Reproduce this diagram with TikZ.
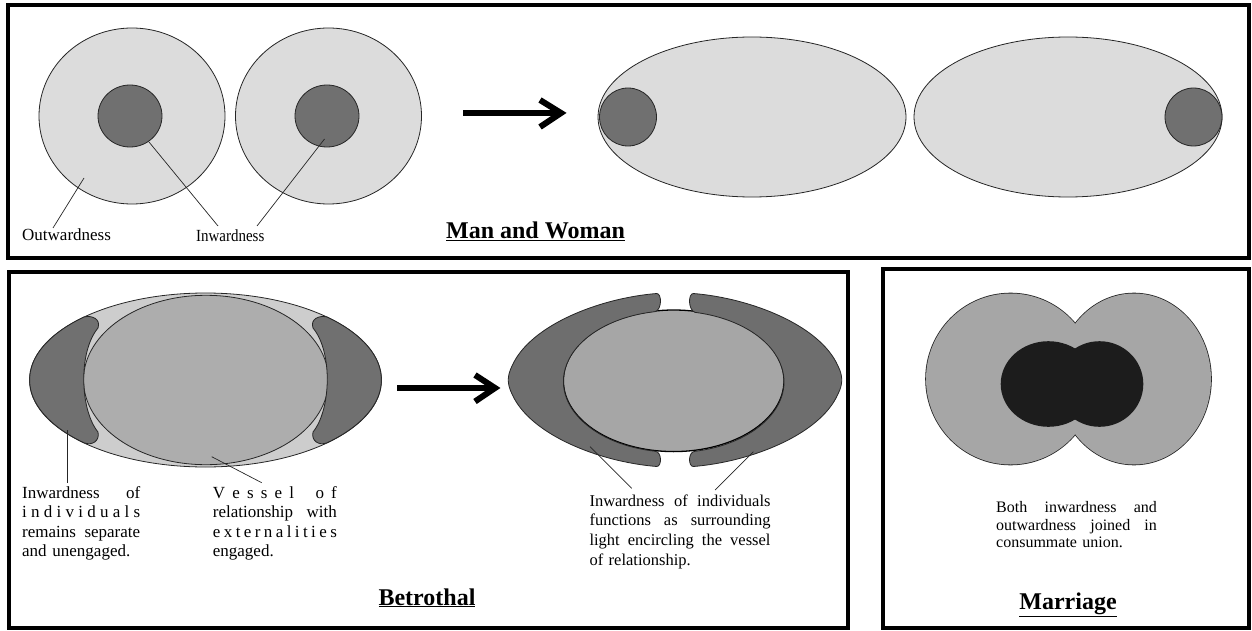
\documentclass[tikz,border=0pt]{standalone}
\usepackage{fontspec}
\setmainfont{Liberation Serif}
\usepackage{graphicx}
\definecolor{lightA}{HTML}{DCDCDC}
\definecolor{darkA}{HTML}{707070}
\definecolor{ringB}{HTML}{CDCDCD}
\definecolor{vesselB}{HTML}{ADADAD}
\definecolor{vesselC}{HTML}{A6A6A6}
\definecolor{darkC}{HTML}{6E6E6E}
\definecolor{grayM}{HTML}{A6A6A6}
\definecolor{blackM}{HTML}{1C1C1C}
\tikzset{
  panel/.style={draw=black, line width=4pt},
  outline/.style={draw=black!85, line width=0.8pt},
  lead/.style={draw=black!85, line width=0.7pt},
  shaft/.style={draw=black, line width=6pt},
  chevron/.style={draw=black, line width=6pt, line join=miter},
  smalllabel/.style={inner sep=0pt, anchor=base west, font=\fontsize{17}{19.5}\selectfont},
  titletext/.style={inner sep=0pt, anchor=base, font=\bfseries\fontsize{24}{28}\selectfont},
  textblock/.style={inner sep=0pt, anchor=north west, align=left},
}
\begin{document}
\begin{tikzpicture}[x=1pt,y=-1pt]
\useasboundingbox (0,0) rectangle (1252,631);

% ---------------- panels
\draw[panel] (8,5) rectangle (1249,258);
\draw[panel] (9,272) rectangle (848,628);
\draw[panel] (883,269) rectangle (1249,628);

% ---------------- top panel: two persons
\draw[outline, fill=lightA] (132,116) ellipse [x radius=93, y radius=88];
\draw[outline, fill=darkA] (130,116) ellipse [x radius=32, y radius=31];
\draw[outline, fill=lightA] (328.5,116) ellipse [x radius=93, y radius=88];
\draw[outline, fill=darkA] (327,116) ellipse [x radius=32, y radius=31];

\node[smalllabel] (outw) at (22,240) {Outwardness};
\node[smalllabel] (inw) at (196,241) {\scalebox{0.88}[1]{Inwardness}};
\coordinate (outwS) at (53,228);
\coordinate (outwE) at (84,178);
\coordinate (inwS1) at (218,226);
\coordinate (inwE1) at (149,142);
\coordinate (inwS2) at (257,226);
\coordinate (inwE2) at (324.5,139);
\draw[lead] (outwS) -- (outwE);
\draw[lead] (inwS1) -- (inwE1);
\draw[lead] (inwS2) -- (inwE2);

% arrow top
\coordinate (arA1) at (463,113);
\coordinate (arA2) at (556,113);
\coordinate (arAtip) at (561,113);
\draw[shaft] (arA1) -- (arA2);
\draw[chevron] (540,100) -- (arAtip) -- (540,127);

% two ellipses
\draw[outline, fill=lightA] (752,117) ellipse [x radius=154, y radius=80];
\draw[outline, fill=darkA] (628,117) ellipse [x radius=28.5, y radius=29];
\draw[outline, fill=lightA] (1068,117) ellipse [x radius=154, y radius=80];
\draw[outline, fill=darkA] (1193.5,117) ellipse [x radius=28.5, y radius=29];

\node[titletext] (manwoman) at (535.5,238) {\underline{Man and Woman}};

% ---------------- betrothal, first figure
\draw[outline, fill=ringB] (205.5,380) ellipse [x radius=176, y radius=87];
\draw[outline, fill=vesselB] (206,380) ellipse [x radius=122.5, y radius=84.7];
\draw[outline, fill=darkA]
  (84,317) arc [start angle=226.3, end angle=133.7, x radius=176, y radius=87]
  .. controls (92,446) and (100,441) .. (98,432)
  .. controls (80,410) and (78,352) .. (98,328)
  .. controls (101,319) and (92,315) .. (84,317) -- cycle;
\draw[outline, fill=darkA]
  (327,317) arc [start angle=-46.3, end angle=46.3, x radius=176, y radius=87]
  .. controls (319,446) and (311,441) .. (313,432)
  .. controls (331,410) and (333,352) .. (313,328)
  .. controls (310,319) and (319,315) .. (327,317) -- cycle;

\coordinate (ldA) at (67,430);
\coordinate (ldB) at (67,483);
\coordinate (ldC) at (211.7,456.7);
\coordinate (ldD) at (261.7,482.7);
\draw[lead] (ldA) -- (ldB);
\draw[lead] (ldC) -- (ldD);

\node[textblock, text width=118pt, font=\fontsize{17}{19.5}\selectfont] (txtA) at (22,484.35) {%
\makebox[\linewidth][s]{\strut Inwardness \hfill of}\\
\makebox[\linewidth][s]{\strut i\hfill n\hfill d\hfill i\hfill v\hfill i\hfill d\hfill u\hfill a\hfill l\hfill s}\\
\makebox[\linewidth][s]{\strut remains \hfill separate}\\
\strut and unengaged.};

\node[textblock, text width=124pt, font=\fontsize{17}{19.5}\selectfont] (txtB) at (212.7,484.35) {%
\makebox[\linewidth][s]{\strut V\hfill e\hfill s\hfill s\hfill e\hfill l\hfill\hfill\hfill o\hfill f}\\
\makebox[\linewidth][s]{\strut relationship \hfill with}\\
\makebox[\linewidth][s]{\strut e\hfill x\hfill t\hfill e\hfill r\hfill n\hfill a\hfill l\hfill i\hfill t\hfill i\hfill e\hfill s}\\
\strut engaged.};

% arrow bottom
\coordinate (arB1) at (397,388);
\coordinate (arB2) at (490,388);
\coordinate (arBtip) at (495,388);
\draw[shaft] (arB1) -- (arB2);
\draw[chevron] (475,375) -- (arBtip) -- (475,401.5);

% ---------------- betrothal, second figure
\draw[draw=black, line width=1.3pt, fill=vesselC] (673.7,380.8) ellipse [x radius=110.3, y radius=70.8];
\draw[outline, fill=darkC]
  (656.7,293.5) .. controls (600,298) and (530,325) .. (512,366)
  .. controls (507,376) and (507,384) .. (512,394)
  .. controls (530,435) and (600,462) .. (656.7,466.5)
  .. controls (662,466.5) and (662,451.5) .. (655,451.2)
  arc [start angle=99.76, end angle=260.24, x radius=110.3, y radius=70.8]
  .. controls (662,310) and (662,293.5) .. (656.7,293.5) -- cycle;
\draw[outline, fill=darkC]
  (693.3,293.5) .. controls (750,298) and (820,325) .. (838,366)
  .. controls (843,376) and (843,384) .. (838,394)
  .. controls (820,435) and (750,462) .. (693.3,466.5)
  .. controls (688,466.5) and (688,451.5) .. (695,451.3)
  arc [start angle=78.87, end angle=-78.87, x radius=110.3, y radius=70.8]
  .. controls (688,310) and (688,293.5) .. (693.3,293.5) -- cycle;

\coordinate (ldE) at (590,446.7);
\coordinate (ldF) at (631.7,488.3);
\coordinate (ldG) at (753.3,451.7);
\coordinate (ldH) at (715,490);
\draw[lead] (ldE) -- (ldF);
\draw[lead] (ldG) -- (ldH);

\node[textblock, text width=181pt, font=\fontsize{16.5}{19.7}\selectfont] (txtC) at (589.3,492.2) {%
\makebox[\linewidth][s]{\strut Inwardness \hfill of \hfill individuals}\\
\makebox[\linewidth][s]{\strut functions \hfill as \hfill surrounding}\\
\makebox[\linewidth][s]{\strut light \hfill encircling \hfill the \hfill vessel}\\
\strut of relationship.};

\node[titletext] (betro) at (427,605) {\underline{Betrothal}};

% ---------------- marriage
\fill[grayM] (1010.6,379) ellipse [x radius=84.6, y radius=85.5];
\fill[grayM] (1134,379) ellipse [x radius=77, y radius=85.5];
\draw[black!85, line width=1.6pt] (1010.6,379) ellipse [x radius=84.6, y radius=85.5];
\draw[black!85, line width=1.6pt] (1134,379) ellipse [x radius=77, y radius=85.5];
\fill[grayM] (1010.6,379) ellipse [x radius=84.6, y radius=85.5];
\fill[grayM] (1134,379) ellipse [x radius=77, y radius=85.5];
\fill[blackM] (1048.4,384) ellipse [x radius=47.7, y radius=42.8];
\fill[blackM] (1099.5,384) ellipse [x radius=43.8, y radius=42.8];

\node[textblock, text width=160.7pt, font=\fontsize{16}{17.5}\selectfont] (txtD) at (996,500.05) {%
\makebox[\linewidth][s]{\strut Both \hfill inwardness \hfill and}\\
\makebox[\linewidth][s]{\strut outwardness \hfill joined \hfill in}\\
\strut consummate union.};

\node[titletext] (marr) at (1068,609) {\underline{Marriage}};
\end{tikzpicture}
\end{document}
